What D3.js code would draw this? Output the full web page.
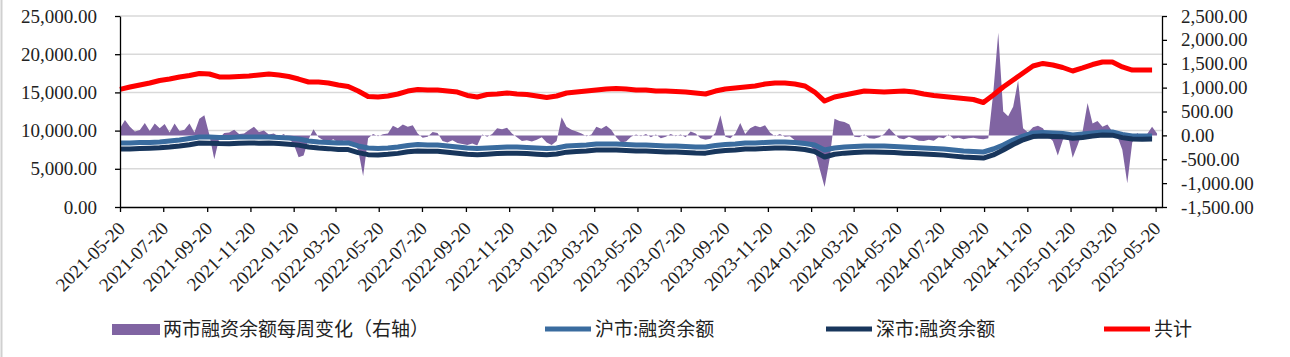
<!DOCTYPE html>
<html>
<head>
<meta charset="utf-8">
<script src="https://cdn.jsdelivr.net/npm/d3@7"></script>
<style>
  body { margin: 0; background: #fff; }
  .num { font-family: "Liberation Serif", "DejaVu Serif", serif; font-size: 19px; fill: #222; }
  .leg { font-family: "Noto Sans CJK SC", sans-serif; font-size: 19px; fill: #222; }
  .grid line { stroke: #d9d9d9; stroke-width: 1.5; }
  .axis path, .axis line { stroke: #000; stroke-width: 1.3; }
</style>
</head>
<body>
<svg id="chart" width="1290" height="357"></svg>
<script>
// weekly change of margin financing, both markets (亿元, right axis), one value per week from 2021-05-20
var weeklyChange = [
  150, 320, 180, 80, 110, 260, 90, 250, 150, 240,
  60, 250, 90, 120, 250, 60, 350, 420, 20, -500,
  -60, 50, 60, 120, 30, 40, 110, 180, 70, 100,
  20, 40, -30, 30, -60, -180, -460, -420, -80, 130,
  -40, -100, -130, -80, -150, -110, -120, -160, -300, -850,
  -60, 30, -20, 25, 40, 200, 150, 230, 180, 210,
  40, -50, -30, 70, 50, -120, -150, -100, -160, -180,
  -200, -170, -210, 20, -30, 30, 150, 130, 160, 40,
  -40, -120, -100, -130, -90, -40, -150, -200, -120, 380,
  180, 120, 80, 40, -20, 20, 180, 140, 200, 120,
  -40, -150, -130, -30, 20, -20, 30, -40, 20, -60,
  -30, 30, -20, 20, -40, 80, 40, -60, -90, -70,
  60, 420, -30, -60, 40, 260, 30, 150, 200, 170,
  210, 60, -20, 30, -30, -20, -100, -180, -150, -220,
  -300, -700, -1080, -500, 350, 300, 280, 230, -30, -40,
  20, -60, -70, -40, 30, 150, 40, -60, -80, -30,
  -70, -110, -120, -90, -110, -40, -60, 20, -70, -50,
  -80, -60, -50, -70, -80, -60, 900, 2150, 500, 400,
  600, 1150, 150, 60, 170, 200, 150, -20, -120, -420,
  -100, 30, -470, -200, 80, 680, 250, 300, 180, 230,
  80, -20, -300, -1000, -150, 50, -40, 30, 180, 40
];

// balances (亿元, left axis), one value every two weeks from 2021-05-20
var shBalance = [
  8380, 8380, 8440, 8440, 8510, 8640, 8770, 8970, 9160, 9160,
  9100, 9100, 9160, 9160, 9160, 9160, 9100, 9030, 8900, 8640,
  8510, 8440, 8380, 8380, 7990, 7720, 7660, 7720, 7850, 8050,
  8180, 8120, 8120, 7990, 7850, 7720, 7660, 7720, 7790, 7850,
  7850, 7790, 7720, 7660, 7720, 7990, 8050, 8120, 8250, 8250,
  8250, 8180, 8120, 8120, 8050, 7990, 7990, 7920, 7850, 7850,
  8050, 8180, 8250, 8380, 8380, 8440, 8510, 8510, 8440, 8310,
  8120, 7460, 7720, 7850, 7920, 7990, 7990, 7990, 7920, 7850,
  7790, 7720, 7660, 7590, 7460, 7330, 7270, 7200, 7590, 8120,
  8770, 9290, 9690, 9750, 9690, 9620, 9420, 9560, 9690, 9820,
  9820, 9490, 9290, 9290, 9290
];
var szBalance = [
  7590, 7600, 7660, 7700, 7750, 7850, 7980, 8150, 8370, 8350,
  8300, 8280, 8350, 8370, 8360, 8380, 8300, 8220, 8100, 7850,
  7720, 7640, 7530, 7510, 7120, 6850, 6820, 6900, 7020, 7240,
  7330, 7300, 7290, 7180, 7040, 6900, 6850, 6920, 6990, 7040,
  7050, 6990, 6920, 6850, 6930, 7180, 7250, 7330, 7460, 7460,
  7450, 7390, 7330, 7320, 7260, 7200, 7190, 7130, 7060, 7050,
  7260, 7400, 7460, 7590, 7600, 7660, 7720, 7730, 7660, 7520,
  7260, 6540, 6900, 7050, 7120, 7190, 7200, 7180, 7120, 7050,
  6990, 6930, 6860, 6790, 6660, 6540, 6480, 6410, 6820, 7460,
  8180, 8800, 9220, 9300, 9240, 9180, 9000, 9110, 9280, 9420,
  9400, 9080, 8900, 8880, 8890
];
var totalBalance = [
  15400, 15700, 15970, 16230, 16560, 16750, 17020, 17210, 17480, 17410,
  17020, 17020, 17080, 17150, 17280, 17410, 17280, 17080, 16750, 16360,
  16360, 16230, 15970, 15770, 15180, 14460, 14400, 14530, 14790, 15180,
  15380, 15320, 15320, 15180, 15050, 14600, 14400, 14730, 14790, 14920,
  14790, 14730, 14530, 14330, 14530, 14920, 15050, 15180, 15320, 15450,
  15510, 15450, 15320, 15320, 15180, 15180, 15120, 15050, 14920, 14790,
  15180, 15450, 15580, 15710, 15840, 16100, 16230, 16230, 16100, 15840,
  15050, 13870, 14400, 14660, 14920, 15180, 15120, 15050, 15120, 15180,
  15050, 14790, 14600, 14460, 14330, 14200, 14070, 13680, 14660, 15710,
  16620, 17540, 18460, 18790, 18590, 18260, 17800, 18200, 18650, 18980,
  18980, 18330, 17930, 17930, 17930
];

var leftTicks = [0, 5000, 10000, 15000, 20000, 25000];
var rightTicks = [-1500, -1000, -500, 0, 500, 1000, 1500, 2000, 2500];
var legendNames = ["两市融资余额每周变化（右轴）", "沪市:融资余额", "深市:融资余额", "共计"];

var startDate = new Date(2021, 4, 20);
var endDate = new Date(2025, 4, 29);
var dateTicks = d3.range(25).map(function (i) { return new Date(2021, 4 + 2 * i, 20); });

var colors = { bar: "#8064a2", sh: "#3a6c9f", sz: "#18365c", total: "#ff0000" };

var svg = d3.select("#chart");
var plotLeft = 120, plotRight = 1162, plotTop = 16, plotBottom = 207;

var x = d3.scaleTime().domain([startDate, endDate]).range([plotLeft, plotRight]);
var yL = d3.scaleLinear().domain([0, 25000]).range([plotBottom, plotTop]);
var yR = d3.scaleLinear().domain([-1500, 2500]).range([plotBottom, plotTop]);

var loc = d3.formatLocale({ decimal: ".", thousands: ",", grouping: [3], currency: ["", ""], minus: "-" });
var fmt = loc.format(",.2f");

// page edge
svg.append("line").attr("x1", 1.5).attr("x2", 1.5).attr("y1", 0).attr("y2", 357)
  .attr("stroke", "#d0d0d0").attr("stroke-width", 2);

// grid
svg.append("g").attr("class", "grid")
  .selectAll("line").data(leftTicks.slice(1)).enter().append("line")
  .attr("x1", plotLeft).attr("x2", plotRight)
  .attr("y1", function (d) { return yL(d); }).attr("y2", function (d) { return yL(d); });

// weekly change area (right axis)
var weekly = weeklyChange.map(function (v, i) {
  return { date: d3.timeDay.offset(startDate, 7 * i), value: v };
});
svg.append("path").datum(weekly)
  .attr("fill", colors.bar)
  .attr("d", d3.area()
    .x(function (d) { return x(d.date); })
    .y0(yR(0))
    .y1(function (d) { return yR(d.value); }));

// balance lines
function series(arr) {
  return arr.map(function (v, i) { return { date: d3.timeDay.offset(startDate, 14 * i), value: v }; });
}
var line = d3.line().x(function (d) { return x(d.date); }).y(function (d) { return yL(d.value); });

[[shBalance, colors.sh], [szBalance, colors.sz], [totalBalance, colors.total]].forEach(function (s) {
  svg.append("path").datum(series(s[0]))
    .attr("fill", "none")
    .attr("stroke", s[1])
    .attr("stroke-width", 5)
    .attr("stroke-linejoin", "round")
    .attr("d", line);
});

// axes
var axL = svg.append("g").attr("class", "axis").attr("transform", "translate(" + plotLeft + ",0)")
  .call(d3.axisLeft(yL).tickValues(leftTicks).tickFormat(fmt).tickSize(5).tickSizeOuter(0).tickPadding(18));
var axR = svg.append("g").attr("class", "axis").attr("transform", "translate(" + plotRight + ",0)")
  .call(d3.axisRight(yR).tickValues(rightTicks).tickFormat(fmt).tickSize(5).tickSizeOuter(0).tickPadding(14));
var axB = svg.append("g").attr("class", "axis").attr("transform", "translate(0," + plotBottom + ")")
  .call(d3.axisBottom(x).tickValues(dateTicks).tickFormat(d3.timeFormat("%Y-%m-%d")).tickSize(5).tickSizeOuter(0));

[axL, axR, axB].forEach(function (g) {
  g.selectAll("text").attr("class", "num").attr("fill", null);
});
axB.selectAll("text")
  .attr("text-anchor", "end")
  .attr("dy", "0.35em")
  .attr("y", 0)
  .attr("transform", "translate(1,18) rotate(-45)");

// legend
var lg = svg.append("g");
lg.append("rect").attr("x", 112).attr("y", 324).attr("width", 48).attr("height", 11).attr("fill", colors.bar);
lg.append("text").attr("class", "leg").attr("x", 163).attr("y", 336).text(legendNames[0]);

var legLines = [[545, colors.sh, legendNames[1]], [826, colors.sz, legendNames[2]], [1104, colors.total, legendNames[3]]];
legLines.forEach(function (d) {
  lg.append("line").attr("x1", d[0]).attr("x2", d[0] + 46).attr("y1", 329).attr("y2", 329)
    .attr("stroke", d[1]).attr("stroke-width", 5);
  lg.append("text").attr("class", "leg").attr("x", d[0] + 50).attr("y", 336).text(d[2]);
});
</script>
</body>
</html>
